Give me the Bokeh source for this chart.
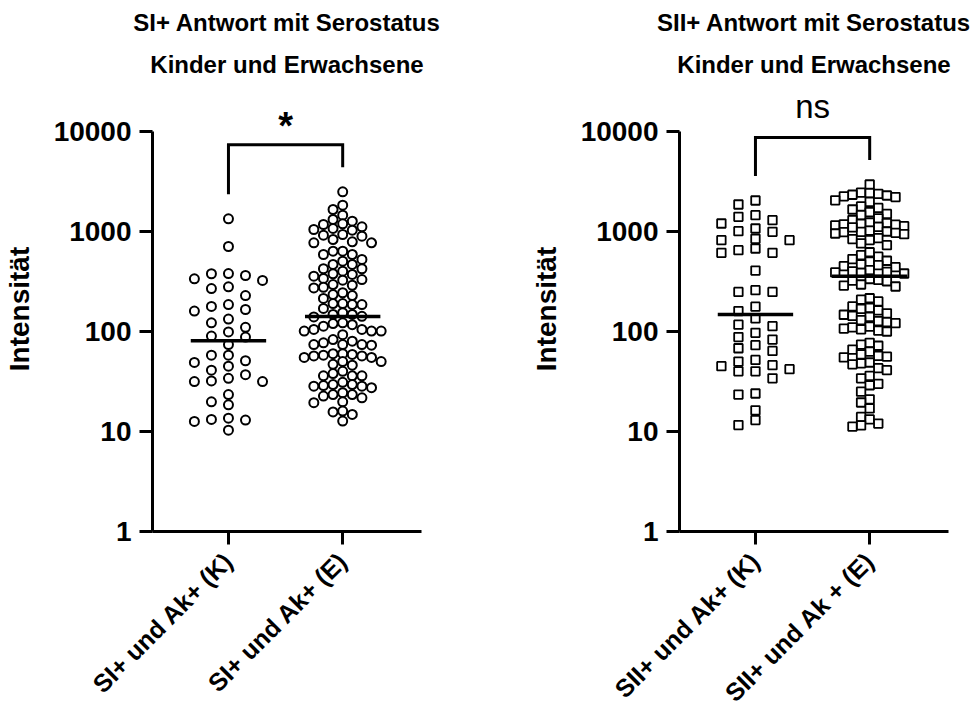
import math
import numpy as np
from bokeh.plotting import figure
from bokeh.layouts import row
from bokeh.models import Range1d, FixedTicker, NumeralTickFormatter, Title
from bokeh.core.properties import value
from bokeh.embed import file_html
from bokeh.resources import INLINE

# ---------------- data ----------------
LEFT_TITLE = ["SI+ Antwort mit Serostatus", "Kinder und Erwachsene"]
RIGHT_TITLE = ["SII+ Antwort mit Serostatus", "Kinder und Erwachsene"]
LEFT_CATS = ["SI+ und Ak+ (K)", "SI+ und Ak+ (E)"]
RIGHT_CATS = ["SII+ und Ak+ (K)", "SII+ und Ak + (E)"]
Y_TICKS = [1, 10, 100, 1000, 10000]
Y_LABEL = "Intensität"
LEFT_SIG = "*"
RIGHT_SIG = "ns"

SI_K = [1340, 708, 380, 378, 363, 336, 324, 280, 269, 229, 186, 178, 166, 160,
        133, 122, 110, 99, 90, 88, 74, 58, 58, 51, 49, 45, 41, 37, 34, 32, 31.6,
        31.6, 23.4, 19.8, 18.5, 13.6, 13.2, 13, 12.6, 10.3]

SI_E = [2495, 1834, 1660, 1456, 1318, 1269, 1194, 1175, 1114, 1072, 1047, 1030,
        933, 919, 898, 832, 788, 770, 770, 636, 636, 589, 589, 525, 505, 468,
        468, 424, 424, 401, 378, 372, 357, 339, 331, 326, 295, 290, 277, 273,
        244, 234, 229, 214, 190, 190, 186, 186,
        170, 142, 154, 148, 148,
        117, 113, 140, 122, 120,
        93, 101, 101, 105, 101, 105,
        83, 74, 74, 80, 73, 77, 74,
        60, 55, 59, 60, 57, 55, 57, 58,
        50, 50, 46, 47,
        40, 36, 36, 38, 36,
        27.4, 29.5, 28.4, 31, 28.4, 29.5, 28.8,
        23.4, 23.4, 24.4, 22.6,
        19.8, 19.4, 21.7,
        15.7, 14.8, 16,
        12.7]

SII_K = [2042, 1862, 1456, 1403, 1297, 1202, 1072, 1007, 993, 845, 819, 819,
         676, 650, 612, 612, 407, 259, 249, 249, 177, 160, 135, 117, 113, 97,
         88, 83, 73, 68, 64, 52, 50, 46, 45, 42, 40, 40, 34, 24, 23.4, 16.3,
         13, 11.6]

SII_E = [2950,
         2450, 2420, 2380, 2330, 2290, 2250, 2210,
         2050, 1980,
         1780, 1720, 1660,
         1560, 1500, 1460,
         1350, 1300,
         1230, 1210, 1190, 1170, 1150, 1130, 1110, 1180,
         1020, 1000, 985, 970, 955, 940, 990,
         860, 840, 820,
         760, 730,
         580, 560, 530, 510, 500,
         470, 460, 450, 440,
         410, 400, 395, 390, 385, 380,
         1100, 620,
         335, 328, 322, 318,
         295, 288, 282,
         215, 208, 200,
         178, 172, 168, 163,
         152, 147, 143, 140,
         130, 127, 124, 121,
         112, 110, 107, 105, 102, 100,
         77, 74, 72,
         66, 63,
         59, 57, 56, 55,
         49, 48, 47,
         43, 41,
         36, 34,
         30, 29,
         25,
         21, 19.5,
         17,
         14, 13.2,
         12, 11.5, 11.2]

FONT = "Liberation Sans"
PX_PER_UNIT = 114.0
PX_PER_DECADE = 100.0


def swarm(vals, step_px, max_k, d_px):
    """Deterministic beeswarm: returns x offsets in data units."""
    ys = np.log10(np.asarray(vals, dtype=float)) * PX_PER_DECADE
    order = np.argsort(-ys, kind="stable")
    cands = [0]
    for k in range(1, max_k + 1):
        cands += [-k, k]
    placed = []
    offs = np.zeros(len(ys))
    for i in order:
        y = ys[i]
        best, best_d = 0, -1.0
        chosen = None
        for c in cands:
            x = c * step_px
            dmin = min((math.hypot(x - px, y - py) for px, py in placed), default=1e9)
            if dmin >= d_px:
                chosen = c
                break
            if dmin > best_d:
                best_d, best = dmin, c
        if chosen is None:
            chosen = best
        placed.append((chosen * step_px, y))
        offs[i] = chosen * step_px / PX_PER_UNIT
    return offs


def panel(titles, cats, groups, marker, msize, mlw, swarm_cfg, sig, sig_bold,
          sig_size, sig_lift, border_left, border_right):
    p = figure(frame_width=269, frame_height=445,
               x_range=Range1d(-0.665, 1.69),
               y_range=Range1d(1, 10 ** 4.45), y_axis_type="log",
               output_backend="svg", toolbar_location=None,
               min_border_left=border_left, min_border_right=border_right,
               min_border_top=86, min_border_bottom=160)
    p.add_layout(Title(text=titles[1], align="center", text_font=FONT,
                       text_font_size="24px", text_font_style="bold",
                       text_color="black", standoff=18), "above")
    p.add_layout(Title(text=titles[0], align="center", text_font=FONT,
                       text_font_size="24px", text_font_style="bold",
                       text_color="black", standoff=8), "above")
    p.xgrid.visible = False
    p.ygrid.visible = False
    p.outline_line_color = None
    p.background_fill_color = "white"
    p.border_fill_color = "white"

    for ax in (p.xaxis[0], p.yaxis[0]):
        ax.axis_line_width = 3
        ax.axis_line_color = "black"
        ax.major_tick_line_width = 3
        ax.major_tick_line_color = "black"
        ax.major_tick_out = 13
        ax.major_tick_in = 0
        ax.minor_tick_line_color = None
        ax.major_label_text_font = FONT
        ax.major_label_text_font_style = "bold"
        ax.major_label_text_color = "black"

    ya = p.yaxis[0]
    ya.ticker = FixedTicker(ticks=Y_TICKS)
    ya.formatter = NumeralTickFormatter(format="0")
    ya.bounds = (Y_TICKS[0], Y_TICKS[-1])
    ya.major_label_text_font_size = "28px"
    ya.major_label_standoff = 8
    ya.axis_label = Y_LABEL
    ya.axis_label_text_font = FONT
    ya.axis_label_text_font_size = "28px"
    ya.axis_label_text_font_style = "bold"
    ya.axis_label_text_color = "black"
    ya.axis_label_standoff = 16

    xa = p.xaxis[0]
    xa.ticker = FixedTicker(ticks=list(range(len(cats))))
    xa.major_label_overrides = {i: c for i, c in enumerate(cats)}
    xa.major_label_orientation = math.pi / 4
    xa.major_label_text_font_size = "25px"
    xa.major_label_standoff = 12

    maxlogs = []
    for gi, vals in enumerate(groups):
        step, kmax, d = swarm_cfg[gi]
        xs = gi + swarm(vals, step, kmax, d)
        p.scatter(x=xs, y=vals, marker=marker, size=msize, line_color="black",
                  line_width=mlw, fill_color="white")
        med = float(np.median(vals))
        p.segment(x0=[gi - 0.33], x1=[gi + 0.33], y0=[med], y1=[med],
                  line_color="black", line_width=3.5)
        maxlogs.append(math.log10(max(vals)))

    top = max(maxlogs) + 0.47
    legs = [m + 0.245 for m in maxlogs]
    p.line(x=[0, 0, 1, 1], y=[10 ** legs[0], 10 ** top, 10 ** top, 10 ** legs[1]],
           line_color="black", line_width=3, line_join="miter")
    p.text(x=[0.5], y=[10 ** (top + sig_lift)], text=[sig], text_align="center",
           text_baseline="alphabetic", text_font=value(FONT),
           text_font_size=sig_size,
           text_font_style="bold" if sig_bold else "normal", text_color="black")
    return p


p1 = panel(LEFT_TITLE, LEFT_CATS, [SI_K, SI_E], "circle", 9, 2.0,
           [(17, 2, 9.5), (9.6, 4, 8.5)], LEFT_SIG, True, "38px", 0.19, 147, 106)
p2 = panel(RIGHT_TITLE, RIGHT_CATS, [SII_K, SII_E], "square", 8.5, 1.8,
           [(17, 2, 9.5), (8.6, 4, 8.5)], RIGHT_SIG, False, "33px", 0.31, 150, 24)

layout = row(p1, p2)
open("out.html", "w").write(file_html(layout, INLINE))
